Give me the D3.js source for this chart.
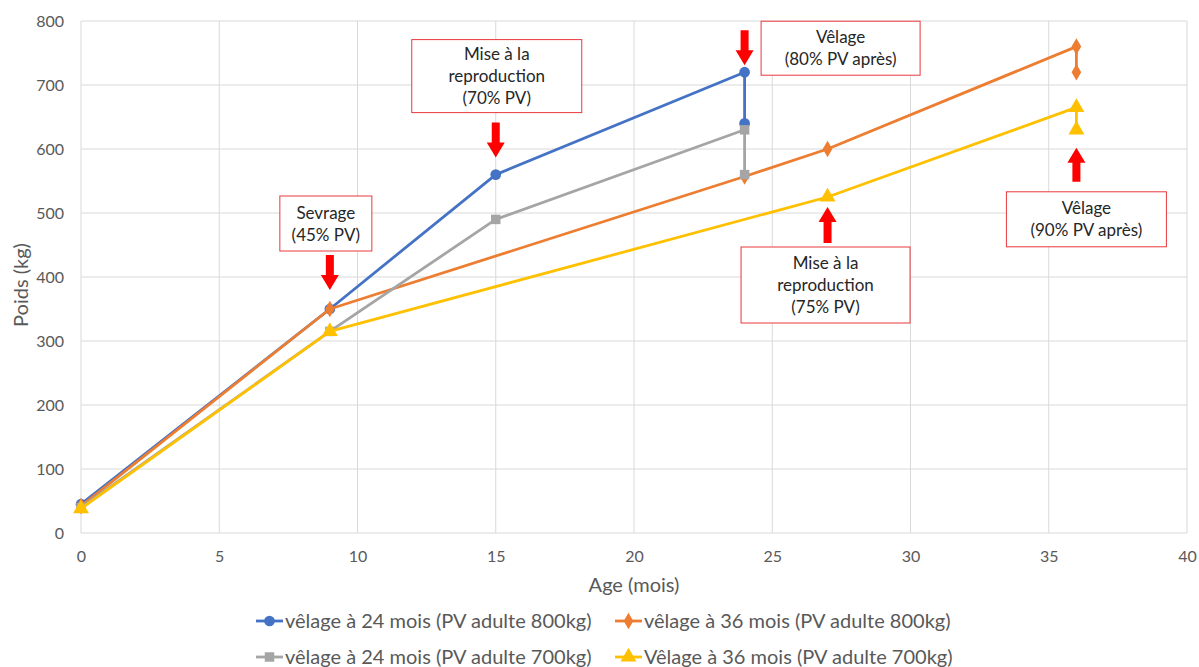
<!DOCTYPE html>
<html><head><meta charset="utf-8">
<script src="https://cdn.jsdelivr.net/npm/d3@7"></script>
<style>body{margin:0;background:#fff;} svg{display:block;font-family:Lato,"Open Sans",sans-serif;}</style>
</head><body><svg id="c" width="1199" height="667"></svg>
<script>
// ---- data ----
const seriesNames = ["vêlage à 24 mois (PV adulte 800kg)","vêlage à 36 mois (PV adulte 800kg)","vêlage à 24 mois (PV adulte 700kg)","Vêlage à 36 mois (PV adulte 700kg)"];
const ages24_800 = [0, 9, 15, 24, 24];
const poids24_800 = [45, 350, 560, 720, 640];
const ages36_800 = [0, 9, 24, 27, 36, 36];
const poids36_800 = [42, 350, 557, 600, 760, 720];
const ages24_700 = [0, 9, 15, 24, 24];
const poids24_700 = [40, 315, 490, 630, 560];
const ages36_700 = [0, 9, 27, 36, 36];
const poids36_700 = [38, 315, 525, 665, 630];
const xTicks = [0,5,10,15,20,25,30,35,40];
const yTicks = [0,100,200,300,400,500,600,700,800];
const annotLabels = [["Sevrage","(45% PV)"],["Mise à la","reproduction","(70% PV)"],["Vêlage","(80% PV après)"],["Mise à la","reproduction","(75% PV)"],["Vêlage","(90% PV après)"]];
const annotAnchors = [[9,350],[15,560],[24,720],[27,525],[36,630]];

// ---- layout ----
const svg = d3.select("#c");
const L=81,R=1187,T=21,B=533;
const x = d3.scaleLinear().domain([0,40]).range([L,R]);
const y = d3.scaleLinear().domain([0,800]).range([B,T]);
const colors = ["#4472C4","#ED7D31","#A5A5A5","#FFC000"];
const symbols = [d3.symbolCircle, d3.symbolDiamond, d3.symbolSquare, d3.symbolTriangle];
const symSizes = [90, 80, 90, 110];
const textColor = "#595959";

// grid
svg.append("g").selectAll("line").data(yTicks).join("line")
  .attr("x1",L).attr("x2",R).attr("y1",d=>y(d)).attr("y2",d=>y(d))
  .attr("stroke","#d9d9d9").attr("stroke-width",1);
svg.append("g").selectAll("line").data(xTicks).join("line")
  .attr("y1",T).attr("y2",B).attr("x1",d=>x(d)).attr("x2",d=>x(d))
  .attr("stroke","#d9d9d9").attr("stroke-width",1);

// axes
const yAxis = svg.append("g").attr("transform",`translate(${L},0)`)
  .call(d3.axisLeft(y).tickValues(yTicks).tickSize(0).tickPadding(17));
const xAxis = svg.append("g").attr("transform",`translate(0,${B})`)
  .call(d3.axisBottom(x).tickValues(xTicks).tickSize(0).tickPadding(18));
[yAxis,xAxis].forEach(a=>{a.select(".domain").remove();
  a.selectAll("text").attr("fill",textColor).style("font-size","16px").style("font-family","Lato,sans-serif");});

svg.append("text").attr("x",(L+R)/2).attr("y",592).attr("text-anchor","middle")
  .attr("fill",textColor).style("font-size","20px").text("Age (mois)");
svg.append("text").attr("transform",`translate(28,${(T+B)/2+8}) rotate(-90)`).attr("text-anchor","middle")
  .attr("fill",textColor).style("font-size","20px").text("Poids (kg)");

// series
const series = [
  {a:ages24_800,p:poids24_800},
  {a:ages36_800,p:poids36_800},
  {a:ages24_700,p:poids24_700},
  {a:ages36_700,p:poids36_700}
];
const line = d3.line().x(d=>x(d[0])).y(d=>y(d[1]));
series.forEach((s,i)=>{
  const pts = s.a.map((a,j)=>[a,s.p[j]]);
  const g = svg.append("g");
  g.append("path").attr("d",line(pts)).attr("fill","none").attr("stroke",colors[i])
    .attr("stroke-width",2.8).attr("stroke-linejoin","round");
  g.selectAll("path.m").data(pts).join("path").attr("class","m")
    .attr("transform",d=>`translate(${x(d[0])},${y(d[1])})`)
    .attr("d",d3.symbol().type(symbols[i]).size(symSizes[i])).attr("fill",colors[i]);
});

// annotations (layout offsets in px relative to data anchors)
const annotLayout = [
  {dir:"down", tip:-19, len:35, bx:-4, bTop:-113, w:92, h:55},
  {dir:"down", tip:-17, len:35, bx:1, bTop:-135, w:170, h:73},
  {dir:"down", tip:-7, len:35, bx:96, bTop:-51, w:159, h:54},
  {dir:"up",   tip:10,  len:36, bx:-2, bTop:50, w:169, h:76},
  {dir:"up",   tip:18,  len:34, bx:10, bTop:62, w:160, h:55}
];
annotAnchors.forEach((an,i)=>{
  const lay = annotLayout[i];
  const ax = x(an[0]), ay = y(an[1]);
  const hl = 15, hw = 9, sw = 4;
  let path;
  if(lay.dir==="down"){
    const tip = ay+lay.tip, tail = tip-lay.len;
    path = `M${ax-sw},${tail}L${ax+sw},${tail}L${ax+sw},${tip-hl}L${ax+hw},${tip-hl}L${ax},${tip}L${ax-hw},${tip-hl}L${ax-sw},${tip-hl}Z`;
  } else {
    const tip = ay+lay.tip, tail = tip+lay.len;
    path = `M${ax-sw},${tail}L${ax+sw},${tail}L${ax+sw},${tip+hl}L${ax+hw},${tip+hl}L${ax},${tip}L${ax-hw},${tip+hl}L${ax-sw},${tip+hl}Z`;
  }
  svg.append("path").attr("d",path).attr("fill","#FF0000");
  const cx = ax+lay.bx, top = ay+lay.bTop;
  svg.append("rect").attr("x",cx-lay.w/2).attr("y",top).attr("width",lay.w).attr("height",lay.h)
    .attr("fill","#fff").attr("stroke","#E8383D").attr("stroke-width",1);
  const lines = annotLabels[i];
  const lh = 22;
  const startY = top + lay.h/2 - (lines.length-1)*lh/2 + 6;
  lines.forEach((t,k)=>{
    svg.append("text").attr("x",cx).attr("y",startY+k*lh).attr("text-anchor","middle")
      .attr("fill","#262626").style("font-size","17px").text(t);
  });
});

// legend
const legPos = [[256,621],[615,621],[256,657],[615,657]];
seriesNames.forEach((n,i)=>{
  const [lx,ly] = legPos[i];
  const g = svg.append("g").attr("transform",`translate(${lx},${ly})`);
  g.append("line").attr("x1",0).attr("x2",27).attr("stroke",colors[i]).attr("stroke-width",2.8);
  g.append("path").attr("transform","translate(13.5,0)").attr("d",d3.symbol().type(symbols[i]).size(symSizes[i])).attr("fill",colors[i]);
  g.append("text").attr("x",29).attr("y",7).attr("fill",textColor).style("font-size","20px").text(n);
});
</script></body></html>
